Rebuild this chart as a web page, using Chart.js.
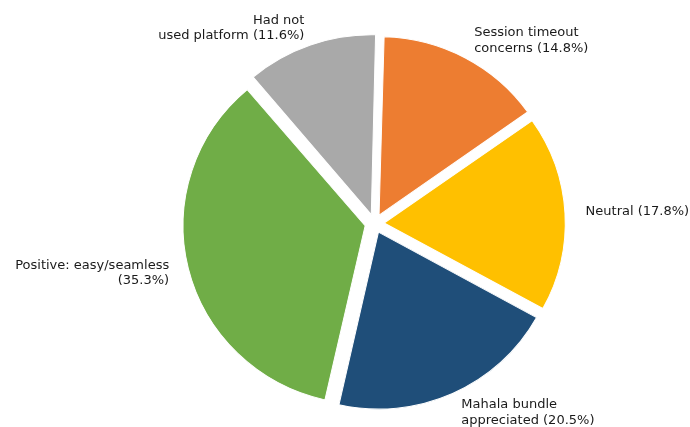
<!DOCTYPE html>
<html>
<head>
<meta charset="utf-8">
<script src="https://cdn.jsdelivr.net/npm/chart.js@4"></script>
<style>
  html, body { margin: 0; padding: 0; background: #fff; }
  #wrap { width: 690px; height: 427px; }
</style>
</head>
<body>
<div id="wrap"><canvas id="feedbackPie"></canvas></div>
<script>
// slices run clockwise from 12 o'clock
const categories = [
  'Session timeout\nconcerns',
  'Neutral',
  'Mahala bundle\nappreciated',
  'Positive: easy/seamless\n',
  'Had not\nused platform'
];
const shares = [14.8, 17.8, 20.5, 35.3, 11.6];
const colors = ['#ED7D31', '#FFC000', '#1F4E79', '#70AD47', '#A9A9A9'];

const EXPLODE = 9.5;       // px each wedge is pushed out
const LABEL_DIST = 1.12;   // label distance, in radii
const STRETCH_X = 1.015;   // exported figure is a touch wider than tall
const STRETCH_Y = 0.995;

function labelText(i) {
  const name = categories[i];
  const pct = '(' + shares[i].toFixed(1) + '%)';
  return name.endsWith('\n') ? name + pct : name + ' ' + pct;
}

function chartCenter(chart) {
  const a = chart.chartArea;
  return { x: (a.left + a.right) / 2, y: (a.top + a.bottom) / 2 };
}

// stretched wedges plus outside labels, aligned by side
const sliceLabels = {
  id: 'sliceLabels',
  beforeDatasetsDraw(chart) {
    const ctx = chart.ctx;
    const c = chartCenter(chart);
    ctx.save();
    ctx.translate(c.x, c.y);
    ctx.scale(STRETCH_X, STRETCH_Y);
    ctx.translate(-c.x, -c.y);
  },
  afterDatasetsDraw(chart) {
    const ctx = chart.ctx;
    ctx.restore();
    const c = chartCenter(chart);
    const arcs = chart.getDatasetMeta(0).data;
    ctx.save();
    ctx.font = '13px "DejaVu Sans"';
    ctx.fillStyle = '#1a1a1a';
    ctx.textBaseline = 'middle';
    const lineH = 15.6;
    arcs.forEach((arc, i) => {
      const p = arc.getProps(['x', 'y', 'startAngle', 'endAngle', 'outerRadius'], true);
      const mid = (p.startAngle + p.endAngle) / 2;
      const reach = EXPLODE + p.outerRadius * LABEL_DIST;
      const ax = c.x + (p.x - c.x + Math.cos(mid) * reach) * STRETCH_X;
      const ay = c.y + (p.y - c.y + Math.sin(mid) * reach) * STRETCH_Y;
      ctx.textAlign = Math.cos(mid) >= 0 ? 'left' : 'right';
      const lines = labelText(i).split('\n');
      const top = ay - (lines.length - 1) * lineH / 2;
      lines.forEach((ln, k) => ctx.fillText(ln, ax, top + k * lineH));
    });
    ctx.restore();
  }
};

new Chart(document.getElementById('feedbackPie'), {
  type: 'pie',
  data: {
    labels: categories,
    datasets: [{
      data: shares,
      backgroundColor: colors,
      borderColor: '#ffffff',
      borderWidth: 1,
      offset: EXPLODE * 4
    }]
  },
  options: {
    responsive: true,
    maintainAspectRatio: false,
    animation: false,
    radius: 177.5,
    rotation: 1.5,
    layout: { padding: { left: 59, top: 20, right: 0, bottom: 0 } },
    plugins: {
      legend: { display: false },
      tooltip: { enabled: false }
    }
  },
  plugins: [sliceLabels]
});
</script>
</body>
</html>
